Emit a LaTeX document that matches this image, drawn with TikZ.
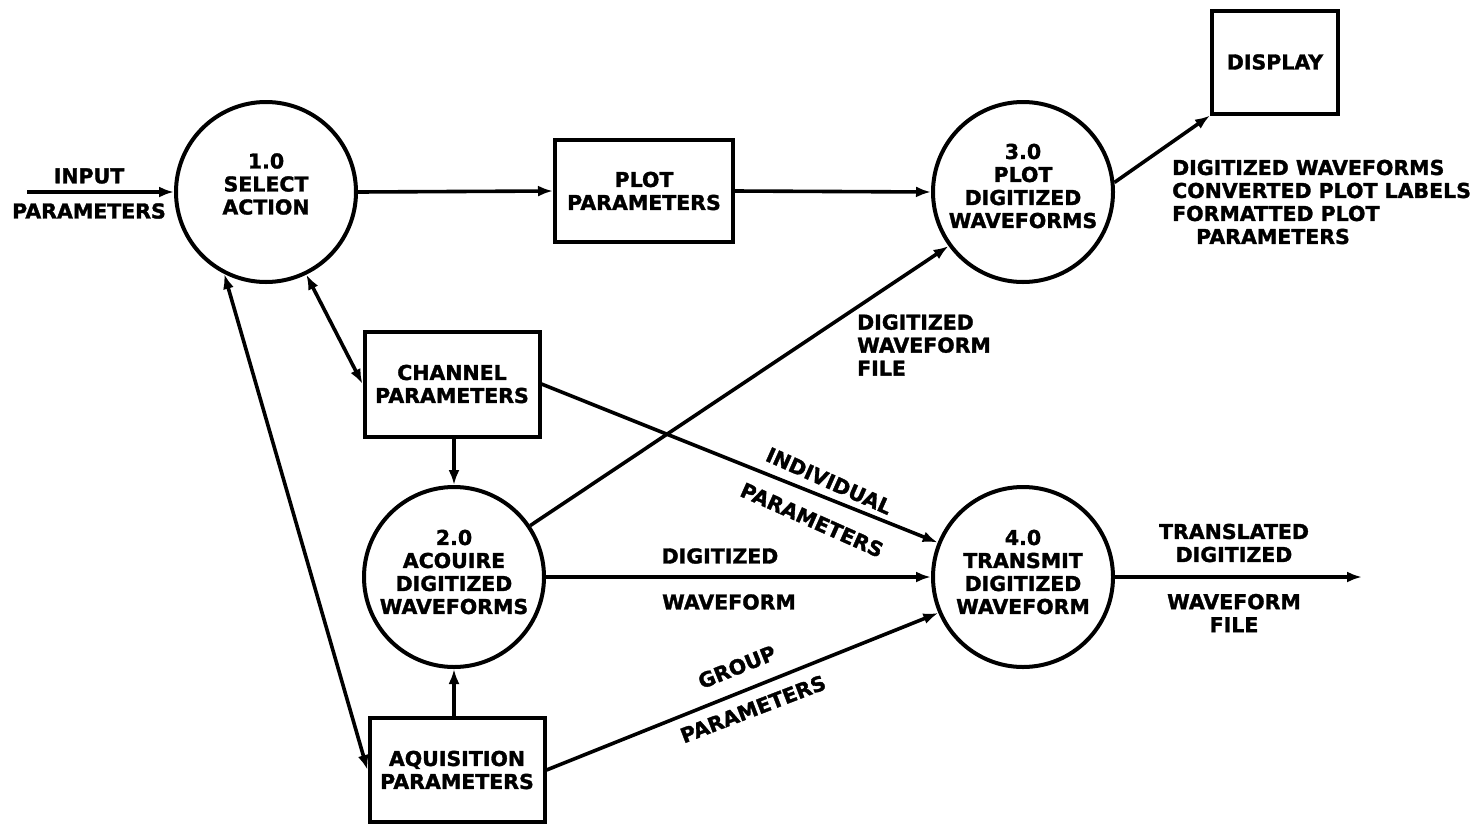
\documentclass[tikz,border=0pt]{standalone}
\usepackage{fontspec}
\setmainfont{DejaVu Sans}[BoldFeatures={FakeBold=1.5}]
\usetikzlibrary{arrows.meta}
\begin{document}
\begin{tikzpicture}[x=1pt,y=-1pt,
  lbl/.style={font=\bfseries\fontsize{20.5}{23}\selectfont, align=center, inner sep=0pt},
  proc/.style={circle, draw, line width=4pt, minimum size=180pt, inner sep=0pt},
  store/.style={lbl, rectangle, draw, line width=4pt},
  tip/.tip={Latex[length=15pt,width=11pt]},
  flow/.style={line width=3.6pt, -tip},
  both/.style={line width=3.6pt, tip-tip}
]
\useasboundingbox (0,0) rectangle (1479,825);

% processes
\node[proc] (c1) at (266,192) {};
\node[proc] (c3) at (1023,192) {};
\node[proc] (c2) at (454,577) {};
\node[proc] (c4) at (1023,577) {};
\node[lbl] (c1t) at (266,184) {1.0\\SELECT\\ACTION};
\node[lbl] (c3t) at (1023,186) {3.0\\PLOT\\DIGITIZED\\WAVEFORMS};
\node[lbl] (c2t) at (454,572) {2.0\\ACOUIRE\\DIGITIZED\\WAVEFORMS};
\node[lbl] (c4t) at (1023,572) {4.0\\TRANSMIT\\DIGITIZED\\WAVEFORM};

% data stores
\node[store, minimum width=178pt, minimum height=102pt] (plot) at (644,191) {PLOT\\PARAMETERS};
\node[store, minimum width=175pt, minimum height=105pt] (chan) at (452,384) {CHANNEL\\PARAMETERS};
\node[store, minimum width=175pt, minimum height=104pt] (acq) at (457,770) {AQUISITION\\PARAMETERS};
\node[store, minimum width=126pt, minimum height=103pt] (disp) at (1275,62) {DISPLAY};

% free ends
\coordinate (inL) at (27,192);
\coordinate (outR) at (1362,577);

% flows
\draw[flow] (inL) -- (c1.west);
\draw[flow] (c1.east) -- (plot.west);
\draw[flow] (plot.east) -- (c3.west);
\draw[flow] (c3.6) -- (disp.south west);
\draw[both] (c1.-64) -- (chan.west);
\draw[both] (c1.-117) -- (acq.west);
\draw[flow] (chan.south -| c2.north) -- (c2.north);
\draw[flow] (acq.north -| c2.south) -- (c2.south);
\draw[flow] (c2.34) -- (c3.216);
\draw[flow] (chan.east) -- (c4.158);
\draw[flow] (c2.east) -- (c4.west);
\draw[flow] (acq.east) -- (c4.203);
\draw[flow] (c4.east) -- (outR);

% flow labels
\node[lbl] (tin) at (89,176) {INPUT};
\node[lbl] (tinp) at (89,211) {PARAMETERS};
\node[lbl] (tdw1) at (720,556) {DIGITIZED};
\node[lbl] (tdw2) at (729,602) {WAVEFORM};
\node[lbl, align=left, anchor=west] (tdwf) at (857,345) {DIGITIZED\\WAVEFORM\\FILE};
\node[lbl, align=left, anchor=west] (tdisp) at (1172,202)
  {DIGITIZED WAVEFORMS\\CONVERTED PLOT LABELS\\FORMATTED PLOT\\\hspace*{24pt}PARAMETERS};
\node[lbl] (ttr1) at (1234,543) {TRANSLATED\\DIGITIZED};
\node[lbl] (ttr2) at (1234,613) {WAVEFORM\\FILE};
\node[lbl, rotate=-24] (tind1) at (829,481) {INDIVIDUAL};
\node[lbl, rotate=-24] (tind2) at (812,520) {PARAMETERS};
\node[lbl, rotate=22] (tgr1) at (737,667) {GROUP};
\node[lbl, rotate=21] (tgr2) at (753,709) {PARAMETERS};
\end{tikzpicture}
\end{document}
